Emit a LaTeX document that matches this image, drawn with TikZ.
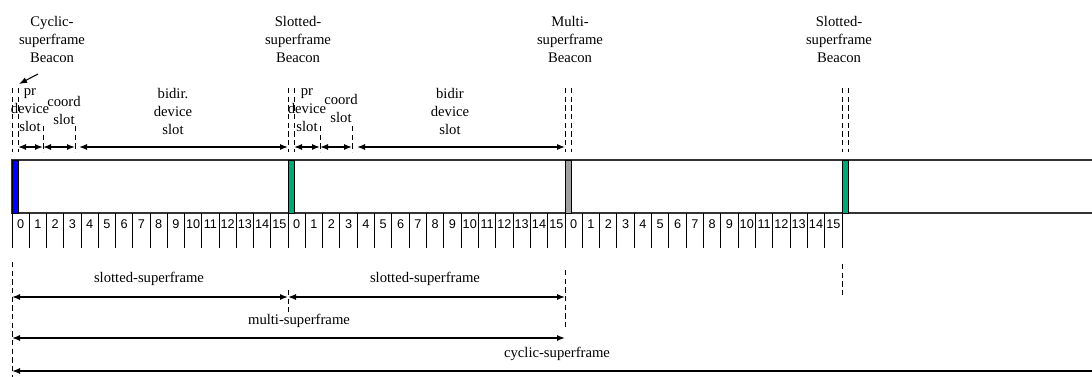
\documentclass[tikz,border=0pt]{standalone}
\usepackage{fontspec}
\setmainfont{Liberation Serif}
\newfontfamily\slotfont{Liberation Sans}
\usetikzlibrary{arrows.meta, positioning, calc}
\definecolor{beacongreen}{RGB}{0,168,120}
\definecolor{beacongray}{RGB}{160,160,160}

\begin{document}
\begin{tikzpicture}[x=0.75pt, y=-0.75pt,
  lbl/.style={align=center, font=\fontsize{11}{13.5}\selectfont, inner sep=0pt},
  num/.style={font=\slotfont\fontsize{9.5}{10}\selectfont, inner sep=0pt},
  dim/.style={{Latex[length=6pt,width=4.5pt]}-{Latex[length=6pt,width=4.5pt]}, line width=1pt},
  guide/.style={dash pattern=on 4pt off 2.5pt, line width=0.7pt},
  bar/.style={line width=1.3pt, draw=black!80}]
\useasboundingbox (0,0) rectangle (1092,377);

\draw[bar] (1092,160) -- (12,160) -- (12,213) -- (1092,213);
\foreach \bx/\col in {12/blue, 288/beacongreen, 565/beacongray, 842/beacongreen}
  \filldraw[fill=\col, draw=black, line width=0.7pt] (\bx,160) rectangle ++(6,53);

\foreach \s/\bx/\ex in {0/12/288, 1/288/565, 2/565/842} {
  \foreach \i in {0,...,15} {
    \draw[line width=0.7pt] ({\bx+(\ex-\bx)/16*\i},213) -- ++(0,35);
    \node[num] (n\s-\i) at ({\bx+(\ex-\bx)/16*(\i+0.5)},224) {\i};
  }
}
\draw[line width=0.7pt] (842,213) -- ++(0,35);

\node[lbl] (cycb) at (52,39) {Cyclic-\\superframe\\Beacon};
\node[lbl] (slob1) at (298,39) {Slotted-\\superframe\\Beacon};
\node[lbl] (mulb) at (570,39) {Multi-\\superframe\\Beacon};
\node[lbl] (slob2) at (839,39) {Slotted-\\superframe\\Beacon};

\foreach \bx in {12, 288, 565, 842} {
  \draw[guide] (\bx,88) -- (\bx,152);
  \draw[guide] (\bx+6,88) -- (\bx+6,152);
}
\foreach \gx in {43, 75, 320, 352}
  \draw[guide] (\gx,126) -- (\gx,152);

\node[lbl] (pr1) at (30,110) {pr\\device\\slot};
\node[lbl] (co1) at (64,110) {coord\\slot};
\node[lbl] (bi1) at (173,111) {bidir.\\device\\slot};
\node[lbl] (pr2) at (307,110) {pr\\device\\slot};
\node[lbl] (co2) at (341,108) {coord\\slot};
\node[lbl] (bi2) at (450,111) {bidir\\device\\slot};

\coordinate (ptrs) at (38,74);
\coordinate (ptre) at (19,84);
\draw[-{Latex[length=6pt,width=4.5pt]}, line width=0.8pt] (ptrs) -- (ptre);

\coordinate (pa1) at (18,147);
\coordinate (pa2) at (43,147);
\coordinate (pa3) at (75,147);
\coordinate (pa4) at (79,147);
\coordinate (pa5) at (288,147);
\coordinate (qa1) at (294,147);
\coordinate (qa2) at (320,147);
\coordinate (qa3) at (352,147);
\coordinate (qa4) at (357,147);
\coordinate (qa5) at (565,147);
\draw[dim] (pa1) -- (pa2);
\draw[dim] (pa2) -- (pa3);
\draw[dim] (pa4) -- (pa5);
\draw[dim] (qa1) -- (qa2);
\draw[dim] (qa2) -- (qa3);
\draw[dim] (qa4) -- (qa5);

\draw[guide] (12,262) -- (12,377);
\draw[guide] (288,290) -- (288,312);
\draw[guide] (565,270) -- (565,330);
\draw[guide] (842,264) -- (842,295);

\node[lbl] (ss1) at (149,279) {slotted-superframe};
\node[lbl] (ss2) at (425,279) {slotted-superframe};
\node[lbl] (ms) at (299,321) {multi-superframe};
\node[lbl] (cs) at (557,354) {cyclic-superframe};

\coordinate (s0) at (12,297);
\coordinate (s1) at (288,297);
\coordinate (s2) at (565,297);
\coordinate (m0) at (12,338);
\coordinate (m1) at (565,338);
\coordinate (c0) at (12,371);
\coordinate (c1) at (1092,371);
\draw[dim] (s0) -- (s1);
\draw[dim] (s1) -- (s2);
\draw[dim] (m0) -- (m1);
\draw[{Latex[length=6pt,width=4.5pt]}-, line width=1pt] (c0) -- (c1);
\end{tikzpicture}
\end{document}
